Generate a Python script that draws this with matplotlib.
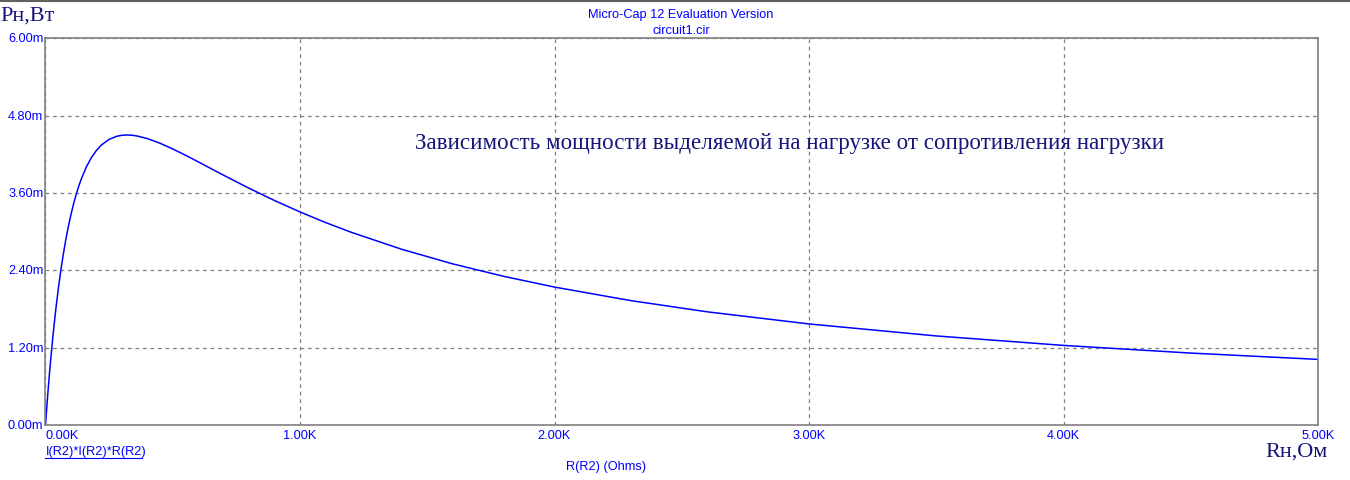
import matplotlib
matplotlib.use("Agg")
import matplotlib.pyplot as plt
from matplotlib.lines import Line2D

# load resistance R2, kOhm
r_load = [0, 0.005, 0.01, 0.015, 0.02, 0.03, 0.04, 0.05, 0.06, 0.07, 0.08, 0.09, 0.10,
          0.11, 0.12, 0.13, 0.14, 0.16, 0.18, 0.20, 0.22, 0.25, 0.28, 0.30, 0.32, 0.34,
          0.36, 0.40, 0.45, 0.50, 0.55, 0.60, 0.65, 0.70, 0.80, 0.90, 1.0, 1.1, 1.2,
          1.4, 1.6, 1.8, 2.0, 2.3, 2.6, 3.0, 3.5, 4.0, 4.5, 5.0]
# power in load, mW
p_load = [0, 0.273, 0.529, 0.770, 0.997, 1.411, 1.778, 2.104, 2.393, 2.651, 2.880, 3.084, 3.265,
          3.427, 3.570, 3.698, 3.811, 4.000, 4.147, 4.260, 4.346, 4.432, 4.480, 4.495, 4.500, 4.496,
          4.484, 4.444, 4.372, 4.283, 4.186, 4.083, 3.979, 3.875, 3.673, 3.483, 3.306, 3.142, 2.992,
          2.726, 2.500, 2.307, 2.140, 1.930, 1.756, 1.568, 1.382, 1.235, 1.116, 1.018]

x_ticks = [0, 1, 2, 3, 4, 5]
x_labels = ["0.00K", "1.00K", "2.00K", "3.00K", "4.00K", "5.00K"]
y_ticks = [0, 1.2, 2.4, 3.6, 4.8, 6.0]
y_labels = ["0.00m", "1.20m", "2.40m", "3.60m", "4.80m", "6.00m"]

W, H = 1350, 481
blue = "#0000ff"
navy = "#14147a"
grey = "#808080"

fig = plt.figure(figsize=(W / 100, H / 100), dpi=100)
ax = fig.add_axes([45.5 / W, 1 - 426 / H, (1318 - 45.5) / W, (426 - 39.3) / H])

ax.plot(r_load, p_load, color=blue, lw=1.1)
ax.set_xlim(0, 5)
ax.set_ylim(0, 6)

ax.set_xticks(x_ticks)
ax.set_yticks(y_ticks)
ax.set_xticklabels([])
ax.set_yticklabels([])
ax.tick_params(length=0)
ax.grid(True, color=grey, ls=(0, (3, 3)), lw=0.9)
for s in ax.spines.values():
    s.set_color(grey)
    s.set_linewidth(1.2)

font = "Liberation Sans"
fs = 9.2
def px(x, y):
    return x / W, 1 - y / H

for v, lab in zip(y_ticks, y_labels):
    ax.annotate(lab, (0, v), xycoords=("axes fraction", "data"), xytext=(-2, 0),
                textcoords="offset pixels", ha="right", va="center",
                color=blue, fontsize=fs, family=font)
for v, lab in zip(x_ticks, x_labels):
    ax.annotate(lab, (v, 0), xycoords=("data", "axes fraction"), xytext=(0, -4),
                textcoords="offset pixels", ha="left" if v == 0 else "center", va="top",
                color=blue, fontsize=fs, family=font)

fig.text(*px(681, 15), "Micro-Cap 12 Evaluation Version", ha="center", va="center",
         color=blue, fontsize=fs, family=font)
fig.text(*px(681, 31), "circuit1.cir", ha="center", va="center",
         color=blue, fontsize=fs, family=font)
fig.text(*px(45.5, 452), "I(R2)*I(R2)*R(R2)", ha="left", va="center",
         color=blue, fontsize=fs, family=font)
fig.add_artist(Line2D([45.5 / W, 142 / W], [1 - 459 / H] * 2, color=blue, lw=0.8))
fig.text(*px(606, 467), "R(R2) (Ohms)", ha="center", va="center",
         color=blue, fontsize=fs, family=font)

serif = "Liberation Serif"
fig.text(*px(0, 16), "Рн,Вт", ha="left", va="center", color=navy,
         fontsize=16, family=serif)
fig.text(*px(1265, 452), "Rн,Ом", ha="left", va="center", color=navy,
         fontsize=16, family=serif)
fig.text(*px(415, 144), "Зависимость мощности выделяемой на нагрузке от сопротивления нагрузки",
         ha="left", va="center", color=navy, fontsize=16.6, family=serif)

# window frame line at the top
fig.add_artist(Line2D([0, 1], [1 - 1.5 / H] * 2, color="#606060", lw=1.5))

fig.savefig("out.png", dpi=100)
